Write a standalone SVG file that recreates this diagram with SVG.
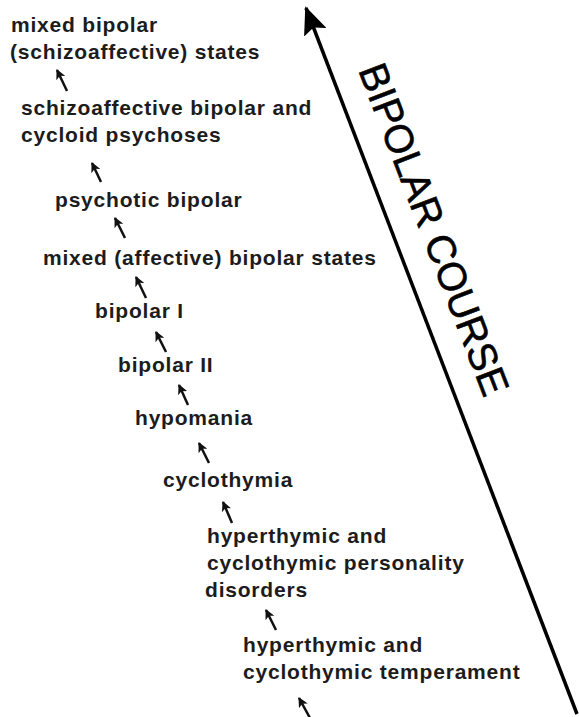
<svg xmlns="http://www.w3.org/2000/svg" width="579" height="717" viewBox="0 0 579 717">
<style>
  .lbl { font-family: "Liberation Sans", Arial, sans-serif; font-weight: bold; font-size: 21px; letter-spacing: 0.8px; fill: #1c1c1c; }
  .course { font-family: "Liberation Sans", Arial, sans-serif; font-size: 40px; fill: #000; stroke: #000; stroke-width: 0.6px; }
  .small { stroke: #111; stroke-width: 2.5; fill: none; marker-end: url(#sh); }
  .big { stroke: #000; stroke-width: 3.5; fill: none; marker-end: url(#bh); }
</style>
<defs>
  <marker id="sh" viewBox="0 0 10 10" refX="9" refY="5" markerWidth="4" markerHeight="4" orient="auto">
    <path d="M0,0 L10,5 L0,10 L2.5,5 Z" fill="#111"/>
  </marker>
  <marker id="bh" markerUnits="userSpaceOnUse" viewBox="0 0 28 24" refX="26" refY="12" markerWidth="28" markerHeight="24" orient="auto">
    <path d="M0,0 L28,12 L0,24 L5,12 Z" fill="#000"/>
  </marker>
</defs>
<rect width="579" height="717" fill="#fff"/>
<g id="connectors">
  <line class="small" x1="67" y1="91" x2="57" y2="70"/>
  <line class="small" x1="101" y1="182" x2="92" y2="163"/>
  <line class="small" x1="125" y1="238" x2="115" y2="218"/>
  <line class="small" x1="146" y1="298" x2="136" y2="277"/>
  <line class="small" x1="166" y1="352" x2="156" y2="332"/>
  <line class="small" x1="188" y1="405" x2="179" y2="385"/>
  <line class="small" x1="209" y1="463" x2="199" y2="443"/>
  <line class="small" x1="232" y1="523" x2="223" y2="502"/>
  <line class="small" x1="276" y1="630" x2="266" y2="610"/>
  <line class="small" x1="310" y1="718" x2="299" y2="698"/>
  <line class="big" x1="577" y1="714" x2="306" y2="8"/>
</g>
<g id="course-label">
  <text class="course" transform="translate(358,70) rotate(69)" textLength="352" lengthAdjust="spacingAndGlyphs">BIPOLAR COURSE</text>
</g>
<g id="n-mixed-schizo">
  <text class="lbl" x="11" y="32">mixed bipolar</text>
  <text class="lbl" x="10" y="59">(schizoaffective) states</text>
</g>
<g id="n-schizo-cycloid">
  <text class="lbl" x="21" y="115">schizoaffective bipolar and</text>
  <text class="lbl" x="21" y="142">cycloid psychoses</text>
</g>
<g id="n-psychotic">
  <text class="lbl" x="55" y="207">psychotic bipolar</text>
</g>
<g id="n-mixed-affective">
  <text class="lbl" x="43" y="265">mixed (affective) bipolar states</text>
</g>
<g id="n-bipolar1">
  <text class="lbl" x="95" y="318">bipolar I</text>
</g>
<g id="n-bipolar2">
  <text class="lbl" x="118" y="372">bipolar II</text>
</g>
<g id="n-hypomania">
  <text class="lbl" x="135" y="425">hypomania</text>
</g>
<g id="n-cyclothymia">
  <text class="lbl" x="163" y="487">cyclothymia</text>
</g>
<g id="n-personality">
  <text class="lbl" x="207" y="543">hyperthymic and</text>
  <text class="lbl" x="207" y="570">cyclothymic personality</text>
  <text class="lbl" x="205" y="597">disorders</text>
</g>
<g id="n-temperament">
  <text class="lbl" x="243" y="652">hyperthymic and</text>
  <text class="lbl" x="243" y="679">cyclothymic temperament</text>
</g>
</svg>
